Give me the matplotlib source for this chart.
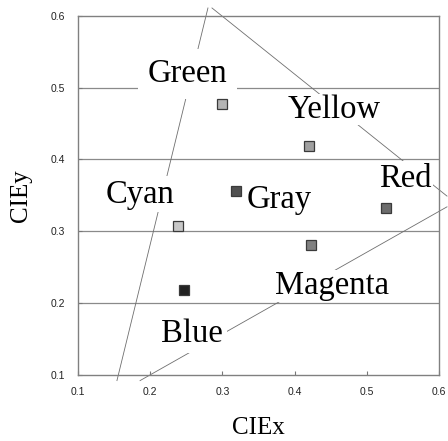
import matplotlib
matplotlib.use('Agg')
import matplotlib.pyplot as plt

# measured chromaticities
names = ['Green', 'Yellow', 'Gray', 'Cyan', 'Red', 'Magenta', 'Blue']
cie_x = [0.299, 0.420, 0.319, 0.239, 0.527, 0.423, 0.247]
cie_y = [0.477, 0.419, 0.356, 0.308, 0.333, 0.281, 0.218]
fills = ['#b4b4b4', '#a0a0a0', '#505050', '#c8c8c8', '#6c6c6c', '#808080', '#222222']

# gamut triangle edges (x0, y0, x1, y1)
edges = [
    (0.280, 0.611, 0.154, 0.092),
    (0.2856, 0.611, 0.611, 0.349),
    (0.611, 0.334, 0.186, 0.092),
]

# label anchor positions (baseline centre) and white-box padding
label_pos = {
    'Green': (0.252, 0.508),
    'Yellow': (0.455, 0.458),
    'Cyan': (0.186, 0.340),
    'Gray': (0.378, 0.333),
    'Red': (0.553, 0.362),
    'Magenta': (0.452, 0.212),
    'Blue': (0.258, 0.146),
}
label_pad = {'Green': 7, 'Yellow': 0.5, 'Cyan': 2, 'Gray': 1,
             'Red': 1.5, 'Magenta': 0.5, 'Blue': 3}

ticks = [0.1, 0.2, 0.3, 0.4, 0.5, 0.6]

fig = plt.figure(figsize=(4.48, 4.41), dpi=100)
ax = fig.add_axes([0.174, 0.150, 0.806, 0.814])

for y in ticks[1:-1]:
    ax.axhline(y, color='#8a8a8a', lw=0.9, zorder=0)

for x0, y0, x1, y1 in edges:
    ax.plot([x0, x1], [y0, y1], color='#6e6e6e', lw=0.6, clip_on=False, zorder=1)

for n in names:
    px, py = label_pos[n]
    ax.text(px, py, n, ha='center', va='baseline', fontsize=23.5,
            family='Liberation Serif', zorder=3,
            bbox=dict(fc='white', ec='none', pad=label_pad[n]))

for x, y, c in zip(cie_x, cie_y, fills):
    ax.plot(x, y, 's', ms=7, mfc=c, mec='#3a3a3a', mew=0.9, zorder=4)

ax.set_xlim(0.1, 0.6)
ax.set_ylim(0.1, 0.6)
ax.set_xticks(ticks)
ax.set_yticks(ticks)
ax.set_xticklabels(['%.1f' % t for t in ticks])
ax.set_yticklabels(['%.1f' % t for t in ticks])
ax.tick_params(direction='in', length=3, width=0.8, color='#777777',
               labelsize=7.5, labelcolor='#222222', pad=9)
for lab in ax.get_xticklabels() + ax.get_yticklabels():
    lab.set_family('Liberation Sans')
for s in ax.spines.values():
    s.set_color('#808080')
    s.set_linewidth(1.0)

ax.set_xlabel('CIEx', family='Liberation Serif', fontsize=18, labelpad=14)
ax.set_ylabel('CIEy', family='Liberation Serif', fontsize=18, labelpad=14)

fig.savefig('out.png', dpi=100)
